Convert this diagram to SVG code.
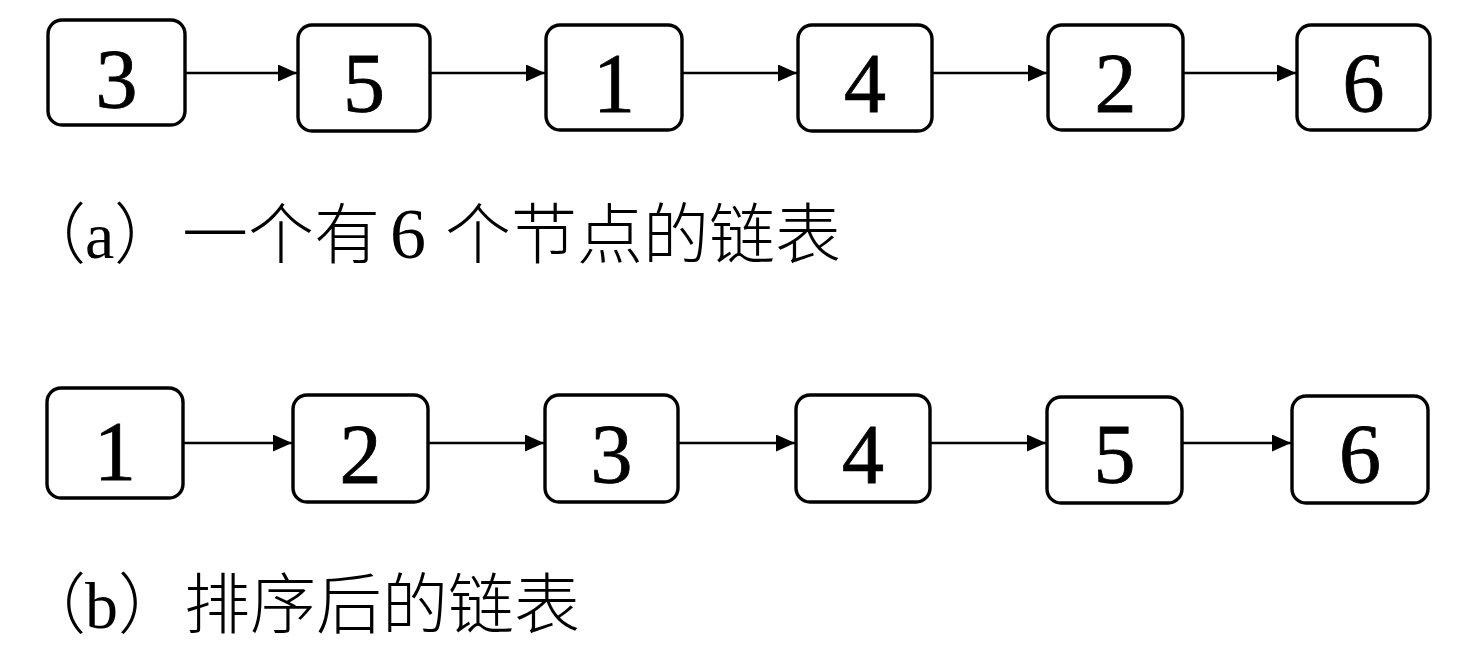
<svg xmlns="http://www.w3.org/2000/svg" width="1472" height="660" viewBox="0 0 1472 660">
<style>
.box{fill:#fff;stroke:#000;stroke-width:3.4}
.num{font-family:"Liberation Serif","Times New Roman",serif;font-size:84px;fill:#000;stroke:#000;stroke-width:0.8;text-anchor:middle}
.lab{font-family:"Liberation Serif","Noto Sans CJK SC",serif;font-size:66px;fill:#000}
.cn{font-family:"Noto Sans CJK SC",sans-serif;font-weight:300}
.conn line{stroke:#000;stroke-width:2.4;marker-end:url(#ah)}
</style>
<defs>
<marker id="ah" markerUnits="userSpaceOnUse" markerWidth="19" markerHeight="17" refX="19" refY="8.5" orient="auto">
<path d="M0,0 L19,8.5 L0,17 z" fill="#000"/>
</marker>
</defs>
<rect width="1472" height="660" fill="#fff"/>

<g id="connectors" class="conn">
<line x1="185" y1="73" x2="297" y2="73"/>
<line x1="430" y1="73" x2="545" y2="73"/>
<line x1="682" y1="73" x2="797" y2="73"/>
<line x1="932" y1="73" x2="1047" y2="73"/>
<line x1="1183" y1="73" x2="1296" y2="73"/>
<line x1="183" y1="443" x2="292" y2="443"/>
<line x1="428" y1="443" x2="544" y2="443"/>
<line x1="678" y1="443" x2="795" y2="443"/>
<line x1="930" y1="443" x2="1046" y2="443"/>
<line x1="1182" y1="443" x2="1291" y2="443"/>
</g>

<g id="a1"><rect class="box" x="48" y="20" width="137" height="105" rx="14"/><text class="num" x="116.5" y="108">3</text></g>
<g id="a2"><rect class="box" x="298" y="25" width="132" height="106" rx="14"/><text class="num" x="364" y="112">5</text></g>
<g id="a3"><rect class="box" x="546" y="25" width="136" height="105" rx="14"/><text class="num" x="614" y="112">1</text></g>
<g id="a4"><rect class="box" x="798" y="25" width="134" height="106" rx="14"/><text class="num" x="865" y="112">4</text></g>
<g id="a5"><rect class="box" x="1048" y="25" width="135" height="105" rx="14"/><text class="num" x="1115.5" y="112">2</text></g>
<g id="a6"><rect class="box" x="1297" y="25" width="133" height="105" rx="14"/><text class="num" x="1363.5" y="112">6</text></g>

<g id="b1"><rect class="box" x="47" y="388" width="136" height="110" rx="14"/><text class="num" x="115" y="480">1</text></g>
<g id="b2"><rect class="box" x="293" y="395" width="135" height="107" rx="14"/><text class="num" x="360.5" y="483">2</text></g>
<g id="b3"><rect class="box" x="545" y="395" width="133" height="107" rx="14"/><text class="num" x="611.5" y="483">3</text></g>
<g id="b4"><rect class="box" x="796" y="395" width="134" height="107" rx="14"/><text class="num" x="863" y="483">4</text></g>
<g id="b5"><rect class="box" x="1047" y="397" width="135" height="106" rx="14"/><text class="num" x="1114.5" y="483">5</text></g>
<g id="b6"><rect class="box" x="1292" y="396" width="136" height="107" rx="14"/><text class="num" x="1360" y="483">6</text></g>

<g id="caption-a">
<text class="lab" y="258"><tspan class="cn" x="20">（</tspan><tspan x="85">a</tspan><tspan class="cn" x="114">）</tspan><tspan class="cn" x="182">一个有</tspan><tspan x="390" font-size="72">6</tspan><tspan class="cn" x="445">个节点的链表</tspan></text>
</g>
<g id="caption-b">
<text class="lab" y="628"><tspan class="cn" x="20">（</tspan><tspan x="85">b</tspan><tspan class="cn" x="118">）</tspan><tspan class="cn" x="184">排序后的链表</tspan></text>
</g>
</svg>
